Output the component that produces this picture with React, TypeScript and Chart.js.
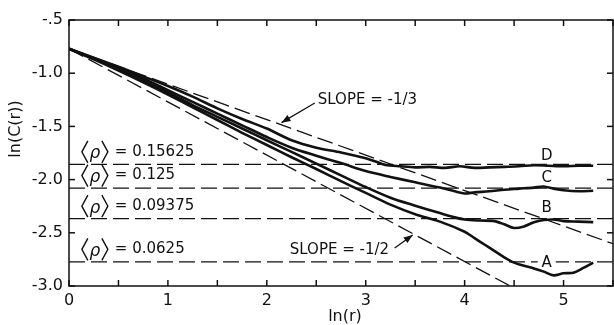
import React, { useEffect, useRef } from 'react';
import { Chart, registerables } from 'chart.js';
Chart.register(...registerables);

// ---- data ----
const curveNames = ['A', 'B', 'C', 'D'];
const aX = [0, 0.25, 0.5, 0.75, 1, 1.25, 1.5, 1.75, 2, 2.25, 2.5, 2.75, 3, 3.25, 3.5, 3.75, 4.0, 4.1, 4.2, 4.3, 4.4, 4.5, 4.6, 4.7, 4.8, 4.9, 5.0, 5.1, 5.2, 5.3];
const aY = [-0.77, -0.87, -0.975, -1.085, -1.2, -1.32, -1.44, -1.56, -1.675, -1.79, -1.9, -2.015, -2.125, -2.235, -2.325, -2.395, -2.49, -2.55, -2.61, -2.67, -2.73, -2.78, -2.81, -2.835, -2.865, -2.9, -2.88, -2.875, -2.83, -2.78];
const bX = [0, 0.25, 0.5, 0.75, 1, 1.25, 1.5, 1.75, 2, 2.25, 2.5, 2.75, 3, 3.25, 3.5, 3.75, 3.9, 4.0, 4.15, 4.3, 4.4, 4.5, 4.6, 4.7, 4.8, 4.9, 5.0, 5.15, 5.3];
const bY = [-0.77, -0.865, -0.965, -1.07, -1.18, -1.3, -1.41, -1.52, -1.63, -1.74, -1.85, -1.96, -2.07, -2.17, -2.245, -2.315, -2.355, -2.375, -2.385, -2.39, -2.42, -2.455, -2.44, -2.4, -2.38, -2.375, -2.39, -2.395, -2.4];
const cX = [0, 0.25, 0.5, 0.75, 1, 1.25, 1.5, 1.75, 2, 2.25, 2.5, 2.75, 3, 3.25, 3.5, 3.75, 3.9, 4.0, 4.1, 4.25, 4.4, 4.55, 4.7, 4.8, 4.9, 5.0, 5.15, 5.3];
const cY = [-0.77, -0.86, -0.955, -1.05, -1.16, -1.27, -1.38, -1.49, -1.6, -1.7, -1.775, -1.845, -1.92, -1.975, -2.025, -2.075, -2.11, -2.13, -2.12, -2.11, -2.095, -2.085, -2.075, -2.065, -2.085, -2.1, -2.11, -2.105];
const dX = [0, 0.25, 0.5, 0.75, 1, 1.25, 1.5, 1.75, 2, 2.25, 2.5, 2.75, 3, 3.1, 3.2, 3.35, 3.5, 3.65, 3.8, 3.95, 4.1, 4.25, 4.4, 4.55, 4.7, 4.85, 5.0, 5.15, 5.3];
const dY = [-0.77, -0.855, -0.94, -1.03, -1.12, -1.22, -1.33, -1.43, -1.52, -1.63, -1.7, -1.745, -1.8, -1.83, -1.862, -1.875, -1.885, -1.88, -1.89, -1.875, -1.89, -1.885, -1.88, -1.875, -1.865, -1.87, -1.875, -1.87, -1.87];

const rhoValues = [0.15625, 0.125, 0.09375, 0.0625];
const rhoLabels = ['0.15625', '0.125', '0.09375', '0.0625'];

const slope13X = [0, 5.5];
const slope13Y = [-0.77, -2.603];
const slope12X = [0, 4.46];
const slope12Y = [-0.77, -3.0];

const curveLabelX = [4.83, 4.83, 4.83, 4.83];
const curveLabelY = [-2.784, -2.267, -1.985, -1.778];

const xMin = 0, xMax = 5.5, yMin = -3.0, yMax = -0.5;
const tickStep = 0.5;
const xTitle = 'ln(r)';
const yTitle = 'ln(C(r))';

const slopeTexts = ['SLOPE = -1/3', 'SLOPE = -1/2'];
const slopeTextPos = [[2.515, -1.252], [2.232, -2.662]];
const slopeArrowFrom = [[2.485, -1.28], [3.293, -2.643]];
const slopeArrowTo = [[2.148, -1.465], [3.475, -2.52]];

const INK = '#111';
const FONT = '"DejaVu Sans", sans-serif';

const toPts = (xs: number[], ys: number[]) => xs.map((x, i) => ({ x, y: ys[i] }));

const overlay = {
  id: 'overlay',
  afterDraw(chart: any) {
    const { ctx, chartArea: a, scales } = chart;
    const xs = scales.x, ys = scales.y;
    const line = (x1: number, y1: number, x2: number, y2: number) => {
      ctx.beginPath(); ctx.moveTo(x1, y1); ctx.lineTo(x2, y2); ctx.stroke();
    };
    ctx.save();
    ctx.strokeStyle = INK;
    ctx.fillStyle = INK;
    ctx.lineWidth = 1.5;
    ctx.setLineDash([]);
    ctx.strokeRect(a.left, a.top, a.right - a.left, a.bottom - a.top);
    // inward ticks
    for (const t of xs.ticks) {
      const px = xs.getPixelForValue(t.value);
      line(px, a.bottom, px, a.bottom - 6);
      line(px, a.top, px, a.top + 6);
    }
    for (const t of ys.ticks) {
      const py = ys.getPixelForValue(t.value);
      line(a.left, py, a.left + 6, py);
      line(a.right, py, a.right - 6, py);
    }
    // titles
    ctx.font = `16px ${FONT}`;
    ctx.textAlign = 'center';
    ctx.textBaseline = 'middle';
    ctx.fillText(xTitle, (a.left + a.right) / 2 + 4, 317);
    ctx.save();
    ctx.translate(16, 129);
    ctx.rotate(-Math.PI / 2);
    ctx.fillText(yTitle, 0, 0);
    ctx.restore();

    // rho labels
    rhoValues.forEach((rho, i) => {
      const x0 = xs.getPixelForValue(0.13);
      const cy = ys.getPixelForValue(Math.log(rho)) - 12.5;
      ctx.lineWidth = 1.4;
      ctx.beginPath();
      ctx.moveTo(x0 + 6, cy - 11); ctx.lineTo(x0, cy); ctx.lineTo(x0 + 6, cy + 11);
      ctx.stroke();
      ctx.beginPath();
      ctx.moveTo(x0 + 20, cy - 11); ctx.lineTo(x0 + 26, cy); ctx.lineTo(x0 + 20, cy + 11);
      ctx.stroke();
      ctx.font = `italic 17px ${FONT}`;
      ctx.textAlign = 'center';
      ctx.fillText('ρ', x0 + 13, cy + 2);
      ctx.font = `15px ${FONT}`;
      ctx.textAlign = 'left';
      ctx.fillText('= ' + rhoLabels[i], x0 + 33, cy);
    });

    // curve labels
    ctx.font = `15px ${FONT}`;
    ctx.textAlign = 'center';
    curveNames.forEach((n, i) => {
      const px = xs.getPixelForValue(curveLabelX[i]);
      const py = ys.getPixelForValue(curveLabelY[i]);
      if (n === 'A') {
        ctx.fillStyle = '#fff';
        ctx.fillRect(px - 9, py - 3, 18, 6);
        ctx.fillStyle = INK;
      }
      ctx.fillText(n, px, py);
    });

    // slope labels and arrows
    slopeTexts.forEach((s, i) => {
      ctx.font = `15px ${FONT}`;
      ctx.textAlign = 'left';
      ctx.fillText(s, xs.getPixelForValue(slopeTextPos[i][0]), ys.getPixelForValue(slopeTextPos[i][1]));
      const fx = xs.getPixelForValue(slopeArrowFrom[i][0]);
      const fy = ys.getPixelForValue(slopeArrowFrom[i][1]);
      const tx = xs.getPixelForValue(slopeArrowTo[i][0]);
      const ty = ys.getPixelForValue(slopeArrowTo[i][1]);
      ctx.lineWidth = 1.3;
      line(fx, fy, tx, ty);
      const ang = Math.atan2(ty - fy, tx - fx);
      const L = 9, W = 3.5;
      ctx.beginPath();
      ctx.moveTo(tx, ty);
      ctx.lineTo(tx - L * Math.cos(ang) + W * Math.sin(ang), ty - L * Math.sin(ang) - W * Math.cos(ang));
      ctx.lineTo(tx - L * Math.cos(ang) - W * Math.sin(ang), ty - L * Math.sin(ang) + W * Math.cos(ang));
      ctx.closePath();
      ctx.fill();
    });
    ctx.restore();
  },
};

export default function App() {
  const ref = useRef<HTMLCanvasElement>(null);
  useEffect(() => {
    if (!ref.current) return;
    const dashed = { borderColor: INK, borderWidth: 1.3, borderDash: [16, 6], pointRadius: 0, tension: 0, fill: false };
    const solid = { borderColor: INK, borderWidth: 2.6, pointRadius: 0, tension: 0.3, fill: false };
    const datasets: any[] = [
      ...rhoValues.map((rho) => ({ ...dashed, data: toPts([xMin, xMax], [Math.log(rho), Math.log(rho)]) })),
      { ...dashed, data: toPts(slope13X, slope13Y) },
      { ...dashed, data: toPts(slope12X, slope12Y) },
      { ...solid, data: toPts(aX, aY) },
      { ...solid, data: toPts(bX, bY) },
      { ...solid, data: toPts(cX, cY) },
      { ...solid, data: toPts(dX, dY) },
    ];
    const chart = new Chart(ref.current, {
      type: 'line',
      data: { datasets },
      options: {
        animation: false,
        responsive: false,
        devicePixelRatio: 1,
        layout: { padding: { left: 0, top: 20, right: 1, bottom: 0 } },
        plugins: { legend: { display: false }, tooltip: { enabled: false } },
        scales: {
          x: {
            type: 'linear', min: xMin, max: xMax,
            grid: { display: false, drawTicks: false },
            border: { display: false },
            afterFit: (s: any) => { s.height = 39; s.paddingLeft = 0; s.paddingRight = 0; },
            ticks: {
              stepSize: tickStep, padding: 5, color: INK, maxRotation: 0, autoSkip: false,
              font: { family: FONT, size: 16 },
              callback: (v: any) => (Number.isInteger(v) ? String(v) : ''),
            },
          },
          y: {
            type: 'linear', min: yMin, max: yMax,
            grid: { display: false, drawTicks: false },
            border: { display: false },
            afterFit: (s: any) => { s.width = 69; s.paddingTop = 0; s.paddingBottom = 0; },
            ticks: {
              stepSize: tickStep, padding: 6, color: INK, autoSkip: false,
              font: { family: FONT, size: 16 },
              callback: (v: any) => (v === -0.5 ? '-.5' : Number(v).toFixed(1)),
            },
          },
        },
      },
      plugins: [overlay],
    } as any);
    return () => chart.destroy();
  }, []);
  return (
    <div style={{ position: 'absolute', left: 0, top: 0, width: 614, height: 325, background: '#fff' }}>
      <canvas ref={ref} width={614} height={325} style={{ display: 'block' }} />
    </div>
  );
}
